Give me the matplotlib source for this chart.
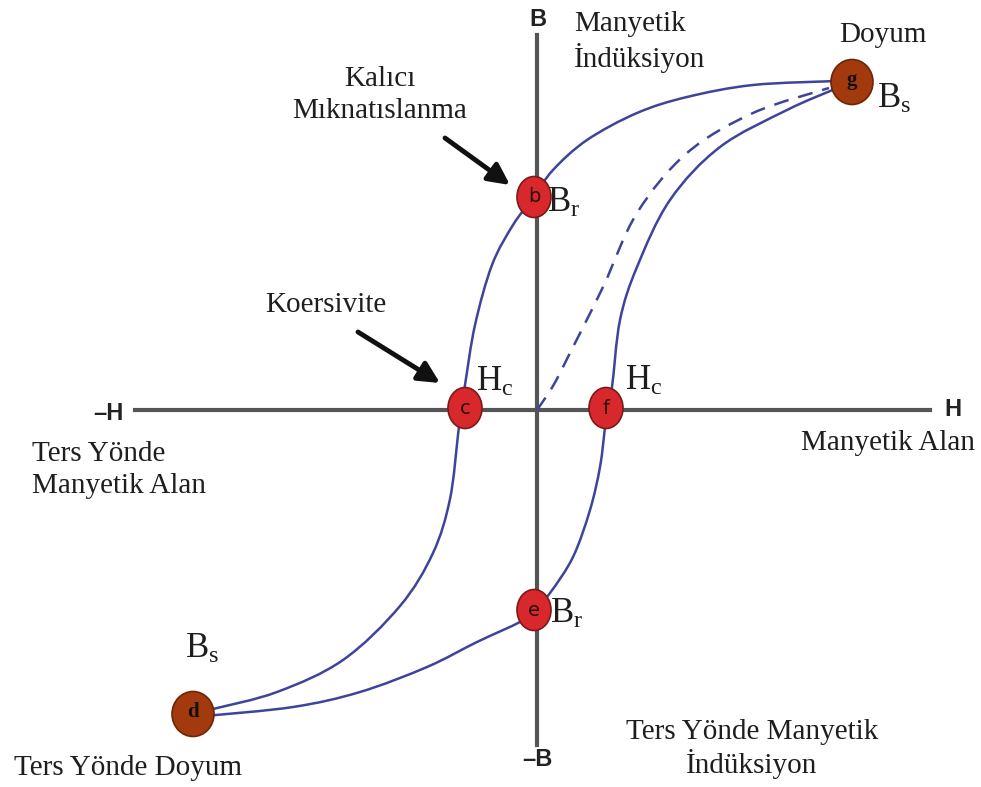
import numpy as np
import matplotlib
matplotlib.use("Agg")
import matplotlib.pyplot as plt
from matplotlib.path import Path
from matplotlib.patches import PathPatch, Ellipse

plt.rcParams['mathtext.fontset'] = 'custom'
plt.rcParams['mathtext.rm'] = 'Liberation Serif'
plt.rcParams['mathtext.it'] = 'Liberation Serif'

# key points of the loop (H, B)
pt_names = ['g', 'b', 'c', 'f', 'e', 'd']
pt_h = [315, -3, -72, 69, -3, -344]
pt_b = [328, 213, 2, 2, -200, -304]
pt_kind = ['sat', 'mid', 'mid', 'mid', 'mid', 'sat']

# descending branch g -> b -> c -> d
upper_h = [300, 216, 150, 100, 50, 16, -4, -24, -45, -62, -72, -76, -79, -87,
           -104, -137, -194, -260, -324, -340]
upper_b = [329, 325, 313, 297, 270, 240, 212, 185, 145, 85, 25, 0, -25, -89,
           -143, -196, -250, -282, -299, -303]

# ascending branch d -> e -> f -> g
lower_h = [-332, -244, -177, -110, -60, -17, -4, 13, 36, 53, 63, 68, 70, 75,
           83, 100, 133, 183, 250, 298]
lower_b = [-306, -297, -282, -257, -232, -212, -202, -183, -147, -100, -57, -17,
           3, 23, 90, 143, 210, 263, 300, 321]

# initial magnetisation curve (dashed)
init_h = [0, 16, 33, 66, 100, 150, 216, 292]
init_b = [0, 24, 57, 123, 197, 257, 297, 322]

curve_col = '#3d4499'
serif = ['Liberation Serif', 'DejaVu Serif']
bold_sans = ['Liberation Sans Narrow', 'Liberation Sans', 'DejaVu Sans']


def smooth(xs, ys):
    p = np.column_stack([xs, ys]).astype(float)
    n = len(p)
    verts = [p[0]]
    codes = [Path.MOVETO]
    for i in range(n - 1):
        p0 = p[max(i - 1, 0)]
        p1 = p[i]
        p2 = p[i + 1]
        p3 = p[min(i + 2, n - 1)]
        verts += [p1 + (p2 - p0) / 6, p2 - (p3 - p1) / 6, p2]
        codes += [Path.CURVE4] * 3
    return Path(verts, codes)


fig = plt.figure(figsize=(9.81, 7.87), dpi=100)
ax = fig.add_axes([0, 0, 1, 1])
ax.set_xlim(-537, 444)
ax.set_ylim(-377, 410)
ax.axis('off')

# axes lines
ax.plot([-402, 393], [0, 0], color='#555555', lw=3, zorder=1)
ax.plot([0, 0], [-335, 375], color='#555555', lw=3, zorder=1)

for xs, ys, ls in [(upper_h, upper_b, '-'), (lower_h, lower_b, '-'),
                   (init_h, init_b, (0, (6, 4)))]:
    ax.add_patch(PathPatch(smooth(xs, ys), fill=False, edgecolor=curve_col,
                           lw=1.8, linestyle=ls, zorder=2))

# points
for name, h, b, kind in zip(pt_names, pt_h, pt_b, pt_kind):
    if kind == 'sat':
        ax.add_patch(Ellipse((h, b), 42, 45, facecolor='#a33a0e',
                             edgecolor='#6e2406', lw=1.2, zorder=3))
        ax.text(h, b + 2, name, ha='center', va='center', fontsize=15,
                fontweight='bold', family=serif, color='#111111', zorder=4)
    else:
        ax.add_patch(Ellipse((h, b), 34, 41, facecolor='#d8282c',
                             edgecolor='#7a1a1a', lw=1.2, zorder=3))
        ax.text(h, b, name, ha='center', va='center', fontsize=14,
                family=['DejaVu Sans'], color='#2a1010', zorder=4)

# arrows
arrow = dict(arrowstyle='-|>', lw=3.5, color='#111111', mutation_scale=32,
             shrinkA=0, shrinkB=0)
ax.annotate('', xy=(-27, 225), xytext=(-92, 272), arrowprops=arrow)
ax.annotate('', xy=(-97, 27), xytext=(-179, 78), arrowprops=arrow)

# axis labels
ax.text(1, 391, 'B', ha='center', va='center', fontsize=17, fontweight='bold',
        family=bold_sans, color='#222222')
ax.text(0, -350, '–B', ha='center', va='center', fontsize=17, fontweight='bold',
        family=bold_sans, color='#222222')
ax.text(-429, -3, '–H', ha='center', va='center', fontsize=17, fontweight='bold',
        family=bold_sans, color='#222222')
ax.text(416, 0, 'H', ha='center', va='center', fontsize=17, fontweight='bold',
        family=bold_sans, color='#222222')

tc = '#1e1e1e'
fs = 21
ls_ = 1.28
ax.text(37, 368, 'Manyetik\nİndüksiyon', ha='left', va='center', fontsize=fs,
        family=serif, color=tc, linespacing=ls_)
ax.text(-157, 315, 'Kalıcı\nMıknatıslanma', ha='center', va='center',
        fontsize=fs, family=serif, color=tc, linespacing=ls_)
ax.text(346, 375, 'Doyum', ha='center', va='center', fontsize=fs,
        family=serif, color=tc)
ax.text(-211, 105, 'Koersivite', ha='center', va='center', fontsize=fs,
        family=serif, color=tc)
ax.text(351, -33, 'Manyetik Alan', ha='center', va='center', fontsize=fs,
        family=serif, color=tc)
ax.text(-505, -60, 'Ters Yönde\nManyetik Alan', ha='left', va='center',
        fontsize=fs, family=serif, color=tc, linespacing=ls_)
ax.text(-409, -358, 'Ters Yönde Doyum', ha='center', va='center',
        fontsize=fs, family=serif, color=tc)
ax.text(215, -339, 'Ters Yönde Manyetik\nİndüksiyon', ha='center',
        va='center', fontsize=fs, family=serif, color=tc, linespacing=1.15)

# symbol labels
sym = 25
ax.text(340, 312, r'$\mathrm{B_s}$', ha='left', va='center', fontsize=sym, color=tc)
ax.text(10, 208, r'$\mathrm{B_r}$', ha='left', va='center', fontsize=sym, color=tc)
ax.text(-61, 29, r'$\mathrm{H_c}$', ha='left', va='center', fontsize=sym, color=tc)
ax.text(88, 30, r'$\mathrm{H_c}$', ha='left', va='center', fontsize=sym, color=tc)
ax.text(-352, -238, r'$\mathrm{B_s}$', ha='left', va='center', fontsize=sym, color=tc)
ax.text(13, -203, r'$\mathrm{B_r}$', ha='left', va='center', fontsize=sym, color=tc)

fig.savefig('out.png', dpi=100, facecolor='white')
